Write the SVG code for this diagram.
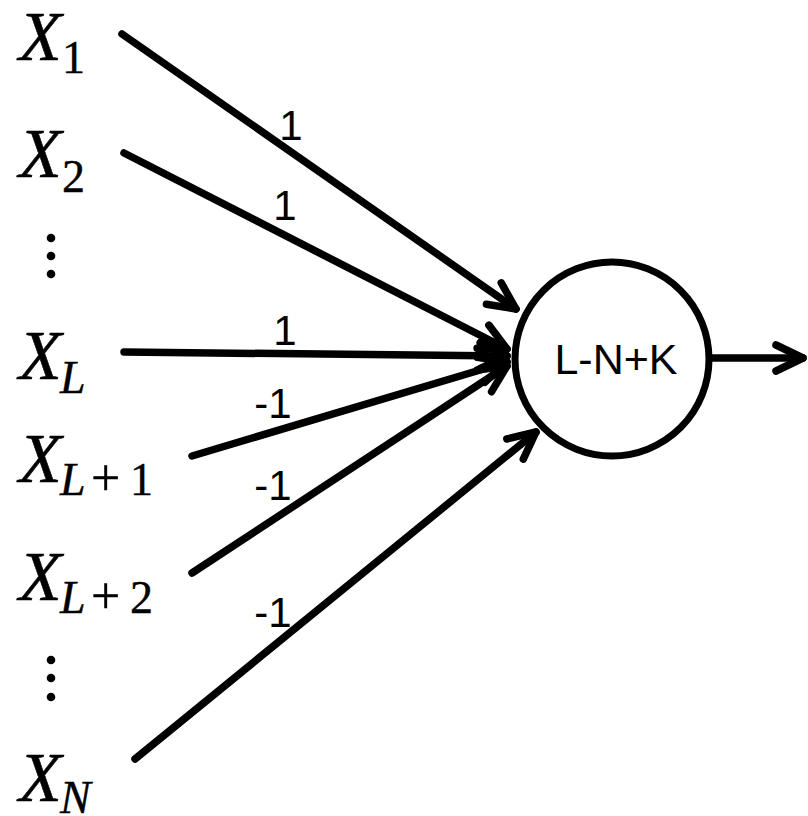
<svg xmlns="http://www.w3.org/2000/svg" width="808" height="816" viewBox="0 0 808 816">
<defs>
<style>
.edge{stroke:#000;stroke-width:7.5;fill:none;stroke-linecap:round}
.xl{font-family:"Liberation Serif",serif;font-style:italic;font-size:70px;fill:#000;stroke:#000;stroke-width:0.6}
.si{font-family:"Liberation Serif",serif;font-style:italic;font-size:46px;fill:#000;stroke:#000;stroke-width:0.4}
.su{font-family:"Liberation Serif",serif;font-size:46px;fill:#000;stroke:#000;stroke-width:0.4}
.w{font-family:"Liberation Sans",Arial,sans-serif;font-size:42px;fill:#000;text-anchor:middle}
.node{fill:#fff;stroke:#000;stroke-width:7}
</style>
<marker id="arr" markerUnits="userSpaceOnUse" viewBox="-40 -20 46 40" refX="0" refY="0" markerWidth="46" markerHeight="40" orient="auto" overflow="visible">
<path d="M -27,-13 L 0,0 L -27,13" fill="none" stroke="#000" stroke-width="7.5" stroke-linecap="round" stroke-linejoin="round"/>
</marker>
</defs>
<rect width="808" height="816" fill="#fff"/>
<g id="connectors">
<line class="edge" x1="122" y1="34" x2="516" y2="309" marker-end="url(#arr)"/>
<line class="edge" x1="124" y1="153" x2="507" y2="349" marker-end="url(#arr)"/>
<line class="edge" x1="124" y1="352" x2="507" y2="356" marker-end="url(#arr)"/>
<line class="edge" x1="192" y1="456" x2="507" y2="362" marker-end="url(#arr)"/>
<line class="edge" x1="192" y1="573" x2="507" y2="366" marker-end="url(#arr)"/>
<line class="edge" x1="135" y1="759" x2="536" y2="432" marker-end="url(#arr)"/>
<line class="edge" x1="712" y1="358" x2="803" y2="358" marker-end="url(#arr)"/>
<text class="w" x="291" y="140">1</text>
<text class="w" x="285" y="220">1</text>
<text class="w" x="285" y="345">1</text>
<text class="w" x="273" y="418">-1</text>
<text class="w" x="273" y="500">-1</text>
<text class="w" x="273" y="627">-1</text>
</g>
<g id="node-sum">
<circle class="node" cx="612" cy="359" r="97"/>
<text class="w" x="616" y="374" style="font-size:43px">L-N+K</text>
</g>
<g id="x1"><text class="xl" x="19" y="60">X</text><text class="su" x="62" y="73">1</text></g>
<g id="x2"><text class="xl" x="19" y="177">X</text><text class="su" x="62" y="192">2</text></g>
<g id="dots1"><circle cx="51" cy="238" r="4.3"/><circle cx="51" cy="256" r="4.3"/><circle cx="51" cy="274" r="4.3"/></g>
<g id="xL"><text class="xl" x="19" y="379">X</text><text class="si" x="60" y="393">L</text></g>
<g id="xL1"><text class="xl" x="19" y="482">X</text><text class="si" x="60" y="495">L</text><text class="su" x="91" y="495" style="font-size:52px">+</text><text class="su" x="130" y="495">1</text></g>
<g id="xL2"><text class="xl" x="19" y="600">X</text><text class="si" x="60" y="613">L</text><text class="su" x="91" y="613" style="font-size:52px">+</text><text class="su" x="130" y="613">2</text></g>
<g id="dots2"><circle cx="51" cy="660" r="4.3"/><circle cx="51" cy="678" r="4.3"/><circle cx="51" cy="697" r="4.3"/></g>
<g id="xN"><text class="xl" x="19" y="801">X</text><text class="si" x="60" y="813">N</text></g>
</svg>
